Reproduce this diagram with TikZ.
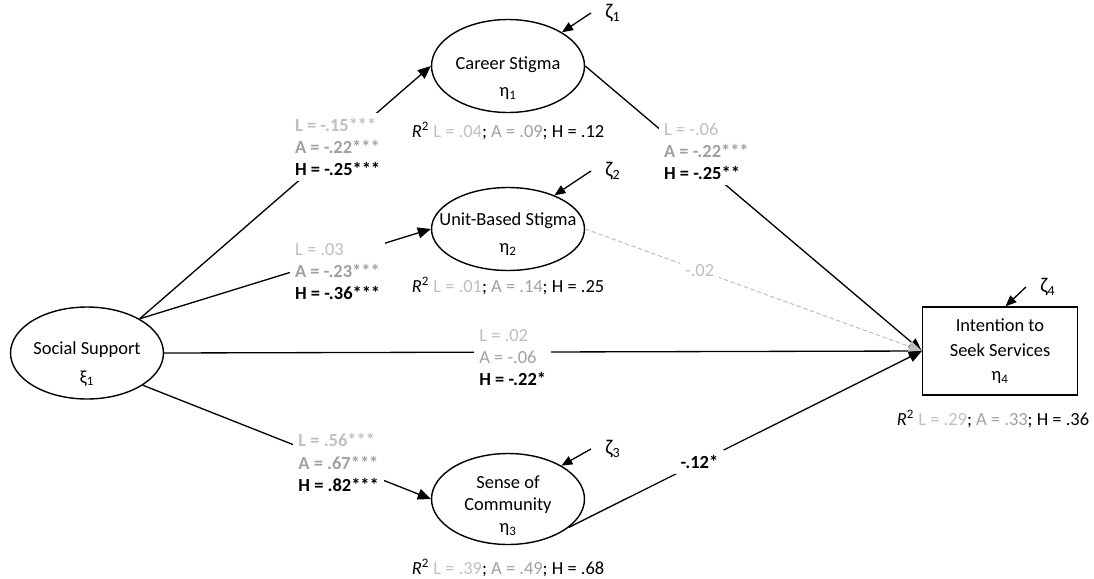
\documentclass[tikz,border=0pt]{standalone}
\usepackage{fontspec}
\setmainfont{Carlito}
\usetikzlibrary{arrows.meta,positioning,shapes.geometric}
\definecolor{SEMlight}{RGB}{191,191,191}
\definecolor{SEMmid}{RGB}{160,160,160}
\newcommand{\Lg}[1]{\textcolor{SEMlight}{#1}}
\newcommand{\Ag}[1]{\textcolor{SEMmid}{#1}}
\newcommand{\Rsq}{\textit{R}\textsuperscript{2}}
\tikzset{
  latent/.style={ellipse,draw,line width=0.8pt,inner sep=0pt,minimum width=3.06cm},
  lname/.style={align=center,font=\fontsize{10.5}{12.5}\selectfont,yshift=-3pt},
  observed/.style={rectangle,draw,line width=0.8pt,align=center,inner sep=2pt,
                   minimum width=3.1cm,minimum height=1.76cm,font=\fontsize{10.5}{12.5}\selectfont},
  sem/.style={-{Triangle[length=2.6mm,width=2.2mm]},line width=0.75pt},
  semns/.style={draw=SEMlight,dash pattern=on 2.5pt off 1.5pt,line width=0.6pt,
                -{Triangle[length=2.6mm,width=2.2mm,fill=SEMlight]}},
  coef/.style={fill=white,align=left,inner sep=3pt,font=\fontsize{10.5}{12.6}\selectfont},
  rsq/.style={inner sep=1pt,font=\fontsize{10.5}{12.6}\selectfont},
  zeta/.style={inner sep=1pt,font=\fontsize{12}{14}\selectfont},
  dist/.style={-{Triangle[length=2.2mm,width=1.8mm]},line width=0.75pt}
}
\begin{document}
\begin{tikzpicture}[x=0.02cm,y=-0.02cm]
  \useasboundingbox (0,0) rectangle (1094,578);
  % latent and observed variables
  \node[latent,minimum height=1.84cm,
        label={[lname,yshift=-3pt]center:{Social Support\\[4pt]ξ\textsubscript{1}}}] (social) at (87,353) {};
  \node[latent,minimum height=1.86cm,
        label={[lname,yshift=-4pt]center:{Career Stigma\\[3pt]η\textsubscript{1}}}] (career) at (508,66) {};
  \node[latent,minimum height=1.66cm,
        label={[lname]center:{Unit-Based Stigma\\[3pt]η\textsubscript{2}}}] (unit) at (508,229) {};
  \node[latent,minimum height=1.82cm,
        label={[lname,yshift=-1pt]center:{Sense of\\Community\\η\textsubscript{3}}}] (sense) at (508,499) {};
  \node[observed] (box) at (1000,351) {Intention to\\[2pt]Seek Services\\[1pt]η\textsubscript{4}};

  % explained variance
  \node[rsq,below=4pt of career] (rcareer) {\Rsq{} \Lg{L = .04}; \Ag{A = .09}; H = .12};
  \node[rsq,below=2pt of unit] (runit) {\Rsq{} \Lg{L = .01}; \Ag{A = .14}; H = .25};
  \node[rsq,below=7pt of sense] (rsense) {\Rsq{} \Lg{L = .39}; \Ag{A = .49}; H = .68};
  \node[rsq,below=7pt of box,xshift=-4pt] (rbox) {\Rsq{} \Lg{L = .29}; \Ag{A = .33}; H = .36};

  % disturbances
  \node[zeta] (z1) at (613,13) {ζ\textsubscript{1}};
  \node[zeta] (z2) at (613,171) {ζ\textsubscript{2}};
  \node[zeta] (z3) at (613,449) {ζ\textsubscript{3}};
  \node[zeta] (z4) at (1048,287) {ζ\textsubscript{4}};
  \draw[dist] ([xshift=-7pt]z1.west) -- (career.32);
  \draw[dist] ([xshift=-7pt]z2.west) -- (unit.36);
  \draw[dist] ([xshift=-7pt]z3.west) -- (sense.32);
  \draw[dist] ([xshift=-7pt]z4.west) -- (box.83);

  % structural paths
  \draw[sem] (social.33) -- node[coef,pos=.68]
    {\Lg{\textbf{L = -.15***}}\\\Ag{\textbf{A = -.22***}}\\\textbf{H = -.25***}} (career.west);
  \draw[sem] (social.33) -- node[coef,pos=.68,yshift=-8pt]
    {\Lg{L = .03}\\\Ag{\textbf{A = -.23***}}\\\textbf{H = -.36***}} (unit.west);
  \draw[sem] (social.-30) -- node[coef,pos=.68]
    {\Lg{\textbf{L = .56***}}\\\Ag{\textbf{A = .67***}}\\\textbf{H = .82***}} (sense.west);
  \draw[sem] (social.east) -- node[coef,pos=.46,yshift=-3pt]
    {\Lg{L = .02}\\\Ag{A = -.06}\\\textbf{H = -.22*}} (box.west);
  \draw[sem] (career.east) -- node[coef,pos=.36,yshift=10pt]
    {\Lg{L = -.06}\\\Ag{\textbf{A = -.22***}}\\\textbf{H = -.25**}} (box.west);
  \draw[semns] (unit.east) -- node[coef,pos=.34,text=SEMlight] {-.02} (box.west);
  \draw[sem] (sense.-25) -- node[coef,pos=.37,font=\fontsize{10.5}{12.6}\selectfont\bfseries] {-.12*} (box.west);
\end{tikzpicture}
\end{document}
